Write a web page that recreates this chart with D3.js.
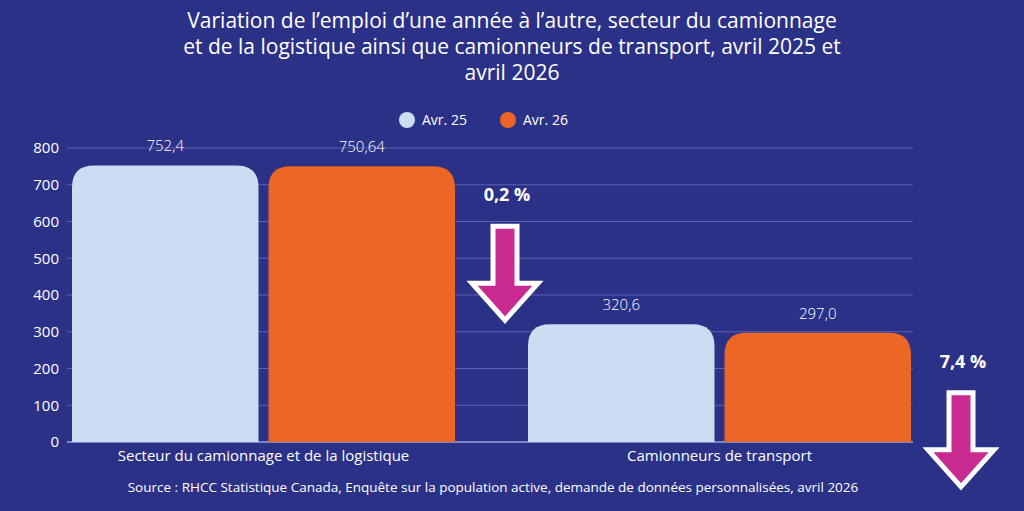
<!DOCTYPE html>
<html><head><meta charset="utf-8">
<script src="https://cdn.jsdelivr.net/npm/d3@7"></script>
<style>body{margin:0;background:#2b3187}svg{display:block;font-family:"Open Sans",sans-serif}</style>
</head><body><svg id="c" width="1024" height="511"></svg>
<script>
const categories = ["Secteur du camionnage et de la logistique", "Camionneurs de transport"];
const seriesNames = ["Avr. 25", "Avr. 26"];
const avr25 = [752.4, 320.6];
const avr26 = [750.64, 297.0];
const valueLabels = [["752,4", "750,64"], ["320,6", "297,0"]];
const changes = ["0,2 %", "7,4 %"];
const yTicks = [0, 100, 200, 300, 400, 500, 600, 700, 800];
const colors = ["#cddcf0", "#ec6625"];

const svg = d3.select("#c");
const pLeft = 67, pRight = 913, pTop = 148, pBottom = 442;
const y = d3.scaleLinear().domain([0, 800]).range([pBottom, pTop]);
const x0 = d3.scaleBand().domain(categories).range([72, 984]).paddingInner(0).paddingOuter(0);

const title = ["Variation de l’emploi d’une année à l’autre, secteur du camionnage",
  "et de la logistique ainsi que camionneurs de transport, avril 2025 et", "avril 2026"];
svg.selectAll(".t").data(title).enter().append("text")
  .attr("x", 512).attr("y", (d, i) => 28 + i * 26).attr("text-anchor", "middle")
  .attr("fill", "#fff").attr("font-size", 21).text(d => d);

// grid
svg.append("g").selectAll("line").data(yTicks.slice(1)).enter().append("line")
  .attr("x1", pLeft).attr("x2", pRight).attr("y1", d => y(d)).attr("y2", d => y(d))
  .attr("stroke", "#5a63b0").attr("stroke-width", 1);
svg.append("line").attr("x1", pLeft).attr("x2", pRight).attr("y1", pBottom).attr("y2", pBottom)
  .attr("stroke", "#7a86c8").attr("stroke-width", 2);

const yAxis = svg.append("g").attr("transform", `translate(${pLeft - 4},0)`)
  .call(d3.axisLeft(y).tickValues(yTicks).tickSize(0).tickPadding(4));
yAxis.select(".domain").remove();
yAxis.selectAll("text").attr("fill", "#fff").attr("font-size", 15).attr("font-family", "Open Sans");

const bw = (x0.bandwidth() - 73 - 10) / 2;
categories.forEach((c, ci) => {
  const gx = x0(c);
  [avr25[ci], avr26[ci]].forEach((v, si) => {
    const bx = gx + si * (bw + 10), by = y(v), r = 22;
    svg.append("path").attr("fill", colors[si])
      .attr("d", `M${bx},${pBottom}V${by + r}Q${bx},${by} ${bx + r},${by}H${bx + bw - r}Q${bx + bw},${by} ${bx + bw},${by + r}V${pBottom}Z`);
    svg.append("text").attr("x", bx + bw / 2).attr("y", by - 14).attr("text-anchor", "middle")
      .attr("fill", "#fff").attr("font-size", 15).attr("font-weight", 300).text(valueLabels[ci][si]);
  });
  svg.append("text").attr("x", gx + bw + 5).attr("y", 461).attr("text-anchor", "middle")
    .attr("fill", "#fff").attr("font-size", 15).text(c);
  // arrow
  const ax = gx + 2 * bw + 10 + 50, ay = y(avr26[ci]) + 60;
  svg.append("text").attr("x", ax + 2).attr("y", ay - 25).attr("text-anchor", "middle")
    .attr("fill", "#fff").attr("font-size", 18).attr("font-weight", 700).text(changes[ci]);
  svg.append("path").attr("fill", "#c92a8f").attr("stroke", "#fff").attr("stroke-width", 5)
    .attr("d", `M${ax - 12},${ay}H${ax + 12}V${ay + 57}H${ax + 33}L${ax},${ay + 94}L${ax - 33},${ay + 57}H${ax - 12}Z`);
});

// legend
seriesNames.forEach((s, i) => {
  const lx = 407 + i * 101;
  svg.append("circle").attr("cx", lx).attr("cy", 120).attr("r", 8).attr("fill", colors[i]);
  svg.append("text").attr("x", lx + 15).attr("y", 125).attr("fill", "#fff").attr("font-size", 14).text(s);
});

svg.append("text").attr("x", 493).attr("y", 492).attr("text-anchor", "middle")
  .attr("fill", "#fff").attr("font-size", 13.5)
  .text("Source : RHCC Statistique Canada, Enquête sur la population active, demande de données personnalisées, avril 2026");
</script></body></html>
